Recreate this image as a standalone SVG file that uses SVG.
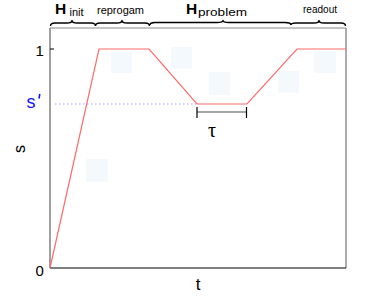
<svg xmlns="http://www.w3.org/2000/svg" width="382" height="301" viewBox="0 0 382 301">
<style>
.lbl{font-family:"Liberation Sans",Arial,sans-serif;fill:#000}
.brace{fill:none;stroke:#000;stroke-width:1.4;stroke-linejoin:round}
.sq{fill:#f4f9fe}
</style>
<rect width="382" height="301" fill="#fff"/>
<g id="faint-squares">
<rect class="sq" x="111" y="52" width="21" height="21"/>
<rect class="sq" x="171" y="47" width="21" height="22"/>
<rect class="sq" x="209" y="72" width="21" height="23"/>
<rect class="sq" x="278" y="71" width="21" height="22"/>
<rect class="sq" x="314" y="51" width="22" height="22"/>
<rect class="sq" x="86" y="159" width="22" height="23"/>
</g>
<g id="axes">
<line x1="50" y1="28" x2="346" y2="28" stroke="#888" stroke-width="1.2"/>
<line x1="50" y1="28" x2="50" y2="268" stroke="#888" stroke-width="1.6"/>
<line x1="346" y1="28" x2="346" y2="268" stroke="#888" stroke-width="1.4"/>
<line x1="50" y1="268" x2="346" y2="268" stroke="#000" stroke-width="1.2"/>
<line x1="50" y1="49" x2="54" y2="49" stroke="#000" stroke-width="1"/>
</g>
<g id="connectors">
<line x1="55" y1="104" x2="196" y2="104" stroke="#a0a4ff" stroke-width="1" stroke-dasharray="1.5 2.5"/>
<polyline points="50,268 99,49 149,49 197,104 247,104 297,49 346,49" fill="none" stroke="#ff6a6a" stroke-width="1.2"/>
<line x1="197" y1="112" x2="246.5" y2="112" stroke="#888" stroke-width="1.6"/>
<line x1="197" y1="107" x2="197" y2="118" stroke="#000" stroke-width="1.2"/>
<line x1="246.5" y1="107" x2="246.5" y2="118" stroke="#000" stroke-width="1.2"/>
</g>
<g id="braces">
<path class="brace" d="M50.5,26 Q50.5,23 55,23 L67,23 Q72,23 72,20.5 Q72,23 77,23 L91,23 Q95.5,23 95.5,26"/>
<path class="brace" d="M95.5,26 Q95.5,23 100,23 L117,23 Q122,23 122,20.5 Q122,23 127,23 L145,23 Q149.5,23 149.5,26"/>
<path class="brace" d="M150,25 Q150,22.5 155,22.5 L217,22.5 Q223,22.5 223,20.5 Q223,22.5 229,22.5 L285,22.5 Q291,22.5 291,25"/>
<path class="brace" d="M291,25 Q291,23 296,23 L314,23 Q319,23 319,20.5 Q319,23 324,23 L341,23 Q345.5,23 345.5,26"/>
</g>
<g id="labels">
<text class="lbl" x="55" y="14" font-size="15.5" font-weight="bold">H</text>
<text class="lbl" x="69.5" y="16" font-size="11">init</text>
<text class="lbl" x="97" y="14" font-size="11.5" textLength="47" lengthAdjust="spacingAndGlyphs">reprogam</text>
<text class="lbl" x="186" y="13.5" font-size="15.5" font-weight="bold">H</text>
<text class="lbl" x="198" y="15.5" font-size="11" textLength="49" lengthAdjust="spacingAndGlyphs">problem</text>
<text class="lbl" x="303" y="13" font-size="11.5" textLength="34" lengthAdjust="spacingAndGlyphs">readout</text>
<text class="lbl" x="35.5" y="56" font-size="15">1</text>
<text class="lbl" x="35.5" y="276" font-size="15">0</text>
<text x="26.5" y="107.5" font-size="18" style="font-family:'Liberation Sans',Arial,sans-serif;fill:#1010ff">s</text>
<line x1="39.8" y1="94" x2="39" y2="98.5" stroke="#1010ff" stroke-width="1.6"/>
<text class="lbl" x="0" y="0" font-size="16" text-anchor="middle" transform="translate(25,149) rotate(-90)">s</text>
<text class="lbl" x="198" y="290" font-size="17" text-anchor="middle">t</text>
<text x="212" y="137" font-size="20" text-anchor="middle" style="font-family:'Liberation Serif','Times New Roman',serif;fill:#000">τ</text>
</g>
</svg>
